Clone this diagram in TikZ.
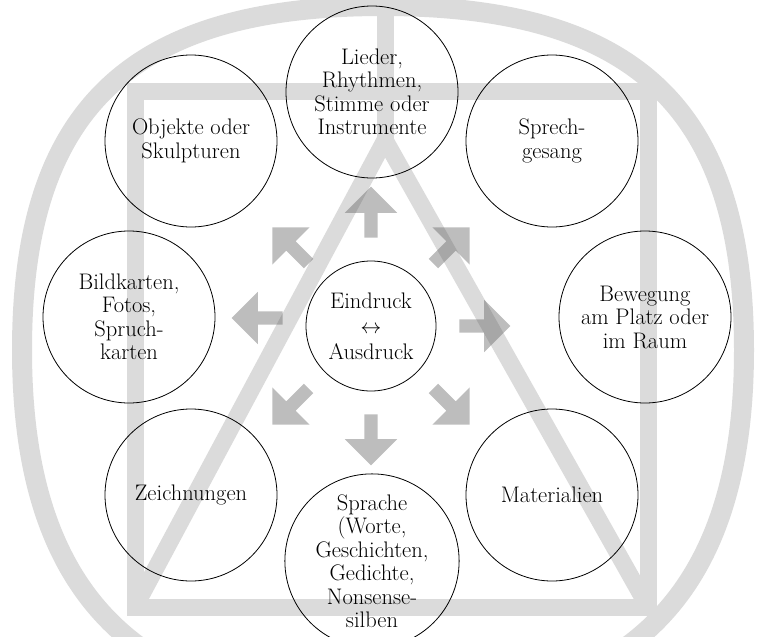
\documentclass[tikz,border=0pt]{standalone}
\usepackage{amsmath}
\usepackage{tikz}
\usetikzlibrary{shapes.arrows, calc}

\begin{document}
\begin{tikzpicture}[x=1pt, y=1pt,
    faint/.style={line width=17pt, black!14},
    topic/.style={draw, circle, line width=0.8pt, minimum size=172pt, inner sep=0pt,
        align=center, font=\fontsize{22.5}{23.5}\selectfont},
    core/.style={topic, minimum size=130pt},
    bigarrow/.style={single arrow, fill=black!65, fill opacity=0.4, draw=none,
        inner sep=6.5pt, minimum height=51pt, single arrow head extend=19.5pt,
        single arrow tip angle=90}]
    \useasboundingbox (0,0) rectangle (758,-637);
    \clip (0,0) rectangle (758,-637);

    % Background sign: circle, square, triangle
    \draw [faint, line width=20pt, line join=round] (383,-6)
        .. controls (130,-6) and (22,-109) .. (22,-350)
        .. controls (22,-595) and (137,-710) .. (383,-710)
        .. controls (629,-710) and (744,-595) .. (744,-350)
        .. controls (744,-109) and (636,-6) .. (383,-6) -- cycle;
    \draw [faint, line cap=square] (135,-91) rectangle (648,-607);
    \draw [faint] (135,-607) -- (385,-140) -- (648,-607);
    \draw [faint] (385,-6) -- (385,-140);

    % Centre and the eight fields
    \node [core] (ctr) at (371,-326) {Eindruck\\[2pt] $\leftrightarrow$\\[2pt] Ausdruck};
    \node [topic] (lied) at (372,-92) {Lieder,\\ Rhythmen,\\ Stimme oder\\ Instrumente};
    \node [topic] (obj) at (191,-141) {Objekte oder\\ Skulpturen};
    \node [topic] (sprech) at (552,-141) {Sprech-\\ gesang};
    \node [topic] (bild) at (129,-317) {Bildkarten,\\ Fotos,\\ Spruch-\\ karten};
    \node [topic] (beweg) at (645,-317) {Bewegung\\ am Platz oder\\ im Raum};
    \node [topic] (zeich) at (191,-495) {Zeichnungen};
    \node [topic] (mat) at (552,-495) {Materialien};
    \node [topic] (sprache) at (372,-561) {Sprache\\ (Worte,\\ Geschichten,\\ Gedichte,\\ Nonsense-\\ silben};

    % Arrows pointing outwards
    \foreach \a/\dy in {0/0, 45/0, 90/0, 135/0, 180/8, 225/0, 270/0, 315/0} {
        \node [bigarrow, rotate=\a] (arr\a) at ($(ctr)+(\a:110.5)+(0,\dy)$) {};
    }
\end{tikzpicture}
\end{document}
